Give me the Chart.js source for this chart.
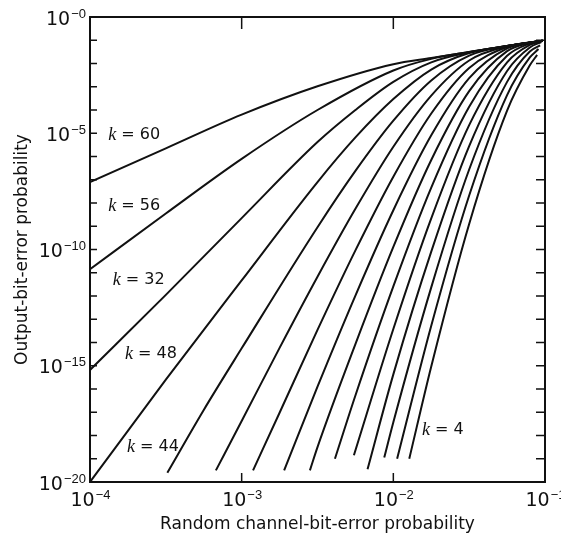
<!DOCTYPE html>
<html>
<head>
<meta charset="utf-8">
<script src="https://cdn.jsdelivr.net/npm/chart.js@4.4.1/dist/chart.umd.min.js"></script>
<style>
  html, body { margin: 0; padding: 0; background: #fff; }
</style>
</head>
<body>
<canvas id="myChart" width="561" height="535"></canvas>
<script>
// each point is [log10 channel-bit-error, log10 output-bit-error]
const kValues = [60, 56, 52, 48, 44, 40, 36, 32, 28, 24, 20, 16, 12, 8, 4];

const k60 = [[-4, -7.1], [-3.5, -5.65], [-3, -4.2], [-2.5, -2.98], [-2, -2.03], [-1.75, -1.76], [-1.5, -1.5], [-1.25, -1.25], [-1.015, -1.02]];
const k56 = [[-4, -10.85], [-3.5, -8.45], [-3, -6.1], [-2.5, -4.0], [-2, -2.3], [-1.75, -1.8], [-1.5, -1.505], [-1.25, -1.25], [-1.015, -1.02]];
const k52 = [[-4, -15.18], [-3.5, -11.95], [-3, -8.65], [-2.5, -5.38], [-2.25, -4.0], [-2, -2.79], [-1.75, -1.95], [-1.5, -1.52], [-1.25, -1.25], [-1.015, -1.02]];
const k48 = [[-4, -20], [-3.5, -15.6], [-3, -11.33], [-2.5, -7.1], [-2.25, -5.18], [-2, -3.53], [-1.75, -2.26], [-1.5, -1.55], [-1.25, -1.25], [-1.015, -1.02]];
const k44 = [[-3.49, -19.6], [-3.25, -16.9], [-3, -14.25], [-2.5, -9.04], [-2.25, -6.62], [-2, -4.46], [-1.75, -2.73], [-1.5, -1.66], [-1.25, -1.25], [-1.015, -1.02]];
const k40 = [[-3.17, -19.5], [-3, -17.38], [-2.75, -14.23], [-2.5, -11.17], [-2.25, -8.25], [-2, -5.58], [-1.75, -3.38], [-1.5, -1.87], [-1.25, -1.26], [-1.1, -1.1], [-1.015, -1.02]];
const k36 = [[-2.925, -19.5], [-2.75, -17.02], [-2.5, -13.46], [-2.25, -10.04], [-2, -6.87], [-1.75, -4.15], [-1.5, -2.19], [-1.25, -1.29], [-1.1, -1.1], [-1.015, -1.02]];
const k32 = [[-2.72, -19.5], [-2.5, -15.9], [-2.25, -11.98], [-2, -8.31], [-1.75, -5.09], [-1.5, -2.63], [-1.25, -1.35], [-1.1, -1.104], [-1.015, -1.02]];
const k28 = [[-2.55, -19.5], [-2.5, -18.5], [-2.25, -14.07], [-2, -9.89], [-1.75, -6.15], [-1.5, -3.19], [-1.25, -1.47], [-1.1, -1.114], [-1.015, -1.02]];
const k24 = [[-2.385, -19.0], [-2.25, -16.28], [-2, -11.59], [-1.75, -7.34], [-1.5, -3.86], [-1.25, -1.67], [-1.1, -1.142], [-1.015, -1.025]];
const k20 = [[-2.26, -18.85], [-2, -13.42], [-1.75, -8.66], [-1.5, -4.65], [-1.25, -1.95], [-1.1, -1.2], [-1.02, -1.04]];
const k16 = [[-2.17, -19.45], [-2, -15.37], [-1.75, -10.09], [-1.5, -5.55], [-1.25, -2.32], [-1.1, -1.31], [-1.025, -1.08]];
const k12 = [[-2.06, -18.95], [-2, -17.43], [-1.75, -11.63], [-1.5, -6.56], [-1.25, -2.79], [-1.1, -1.48], [-1.032, -1.22]];
const k8 = [[-1.975, -19.0], [-1.75, -13.28], [-1.5, -7.68], [-1.25, -3.36], [-1.1, -1.74], [-1.043, -1.38]];
const k4 = [[-1.895, -19.0], [-1.75, -15.03], [-1.5, -8.9], [-1.25, -4.03], [-1.1, -2.08], [-1.052, -1.63]];

const curves = [k60, k56, k52, k48, k44, k40, k36, k32, k28, k24, k20, k16, k12, k8, k4];

// axis ticks, as powers of ten
const yTickExp = [0, -1, -2, -3, -4, -5, -6, -7, -8, -9, -10, -11, -12, -13, -14, -15, -16, -17, -18, -19, -20];
const yLabelExp = [0, -5, -10, -15, -20];
const xTickExp = [-4, -3, -2, -1];

// curve labels as printed
const curveLabels = ['60', '56', '32', '48', '44', '4'];
const curveLabelX = [-3.88, -3.88, -3.85, -3.77, -3.756, -1.811];
const curveLabelY = [-5.08, -8.13, -11.31, -14.49, -18.49, -17.76];

function drawPow(ctx, x, baseY, exp, align) {
  const base = '10';
  const sup = '\u2212' + Math.abs(exp);
  ctx.font = '19px "DejaVu Sans"';
  const w1 = ctx.measureText(base).width;
  ctx.font = '13px "Liberation Sans"';
  const w2 = ctx.measureText(sup).width;
  let start = x - w1 - w2;
  if (align === 'center') start = x - (w1 + w2) / 2;
  ctx.textAlign = 'left';
  ctx.textBaseline = 'alphabetic';
  ctx.font = '19px "DejaVu Sans"';
  ctx.fillText(base, start, baseY);
  ctx.font = '13px "Liberation Sans"';
  ctx.fillText(sup, start + w1 + 1, baseY - 7);
}

const framePlugin = {
  id: 'frame',
  afterDatasetsDraw(chart) {
    const ctx = chart.ctx;
    const a = chart.chartArea;
    const x = chart.scales.x;
    const y = chart.scales.y;
    ctx.save();
    ctx.fillStyle = '#111';
    ctx.strokeStyle = '#111';
    ctx.lineWidth = 2;
    ctx.strokeRect(a.left, a.top, a.right - a.left, a.bottom - a.top);

    ctx.lineWidth = 1.5;
    ctx.beginPath();
    yTickExp.forEach(e => {
      const py = y.getPixelForValue(10 ** e);
      ctx.moveTo(a.left, py); ctx.lineTo(a.left + 7, py);
      ctx.moveTo(a.right, py); ctx.lineTo(a.right - 9, py);
    });
    xTickExp.slice(1, -1).forEach(e => {
      const px = x.getPixelForValue(10 ** e);
      ctx.moveTo(px, a.top); ctx.lineTo(px, a.top + 12);
      ctx.moveTo(px, a.bottom); ctx.lineTo(px, a.bottom - 9);
    });
    ctx.stroke();

    yLabelExp.forEach(e => {
      const py = y.getPixelForValue(10 ** e);
      drawPow(ctx, a.left - 5, py + 7.5, e, 'right');
    });
    xTickExp.forEach(e => {
      const px = x.getPixelForValue(10 ** e);
      drawPow(ctx, px, a.bottom + 24, e, 'center');
    });

    ctx.textBaseline = 'middle';
    ctx.textAlign = 'left';
    curveLabels.forEach((t, i) => {
      const px = x.getPixelForValue(10 ** curveLabelX[i]);
      const py = y.getPixelForValue(10 ** curveLabelY[i]);
      ctx.font = 'italic 18px "Liberation Serif"';
      ctx.fillText('k', px, py);
      const wk = ctx.measureText('k').width;
      ctx.font = '16px "DejaVu Sans"';
      ctx.fillText(' = ' + t, px + wk, py);
    });
    ctx.restore();
  }
};

const ctx = document.getElementById('myChart').getContext('2d');
const myChart = new Chart(ctx, {
  type: 'line',
  data: {
    datasets: curves.map((pts, i) => ({
      label: 'k = ' + kValues[i],
      data: pts.map(p => ({ x: 10 ** p[0], y: 10 ** p[1] })),
      borderColor: '#111',
      borderWidth: 2,
      pointRadius: 0,
      fill: false,
      cubicInterpolationMode: 'monotone'
    }))
  },
  options: {
    responsive: false,
    devicePixelRatio: 1,
    animation: false,
    events: [],
    layout: { padding: { top: 17, right: 16, left: 0, bottom: 0 } },
    plugins: { legend: { display: false }, tooltip: { enabled: false } },
    scales: {
      x: {
        type: 'logarithmic',
        min: 1e-4,
        max: 1e-1,
        grid: { display: false },
        border: { display: false },
        ticks: { display: false },
        title: {
          display: true,
          text: 'Random channel-bit-error probability',
          color: '#111',
          font: { family: 'DejaVu Sans', size: 17 },
          padding: { top: 0, bottom: 0 }
        },
        afterFit: s => { s.height = 53; }
      },
      y: {
        type: 'logarithmic',
        min: 1e-20,
        max: 1,
        grid: { display: false },
        border: { display: false },
        ticks: { display: false },
        title: {
          display: true,
          text: 'Output-bit-error probability',
          color: '#111',
          font: { family: 'DejaVu Sans', size: 17 },
          padding: { top: 12, bottom: 0 }
        },
        afterFit: s => { s.width = 90; }
      }
    }
  },
  plugins: [framePlugin]
});
</script>
</body>
</html>
